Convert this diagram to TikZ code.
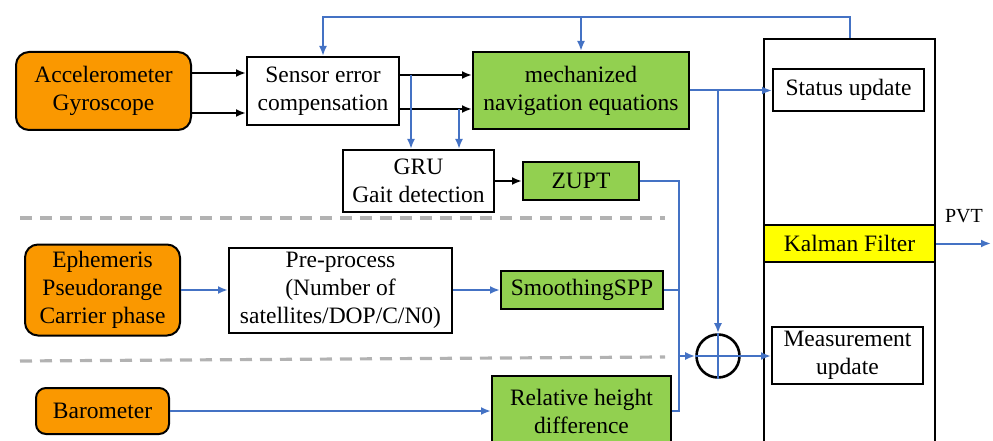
\documentclass[tikz,border=0pt]{standalone}
\usepackage{fontspec}
\setmainfont{Liberation Serif}
\newfontfamily\boxfont{Liberation Serif}
\usepackage{xcolor}
\usetikzlibrary{positioning,arrows.meta,calc}
\definecolor{orangebox}{RGB}{250,152,0}
\definecolor{greenbox}{RGB}{146,208,80}
\definecolor{yellowbox}{RGB}{255,255,0}
\definecolor{lineblue}{RGB}{68,114,196}
\definecolor{dashgray}{RGB}{178,178,178}
\tikzset{
  wblk/.style   ={draw=black, fill=white, line width=2pt, align=center,
                  font=\boxfont\fontsize{23.5}{28}\selectfont, inner sep=0pt},
  gblk/.style   ={wblk, fill=greenbox},
  oblk/.style   ={wblk, fill=orangebox, rounded corners=13pt},
  ar/.style     ={-{Latex[length=10pt,width=8pt]}, draw=black, line width=2pt},
  bar/.style    ={-{Latex[length=10pt,width=8pt]}, draw=lineblue, line width=2pt},
  bln/.style    ={draw=lineblue, line width=2pt},
  divider/.style={draw=dashgray, line width=3.2pt, dash pattern=on 12pt off 8pt},
}
\begin{document}
\begin{tikzpicture}[x=1pt,y=-1pt]
\useasboundingbox (0,0) rectangle (993,441);

% Kalman filter frame
\node[wblk,minimum width=171pt,minimum height=411pt] (kf) at (849.5,244.5) {};
\node[wblk,minimum width=151pt,minimum height=42pt] (status) at (848.5,90) {Status update};
\node[wblk,fill=yellowbox,minimum width=171pt,minimum height=37pt] (kalman) at (849.5,243.5) {Kalman Filter};
\node[wblk,minimum width=151pt,minimum height=57pt] (meas) at (847.5,355.5) {Measurement\\ update};

% IMU branch
\node[oblk,minimum width=175pt,minimum height=78pt] (acc) at (103.5,91) {Accelerometer\\ Gyroscope};
\node[wblk,minimum width=152pt,minimum height=68pt] (sec) at (323,91) {Sensor error\\ compensation};
\node[gblk,minimum width=216pt,minimum height=77pt] (mech) at (581,90.5) {mechanized\\ navigation equations};
\node[wblk,minimum width=151pt,minimum height=62pt] (gru) at (418.5,181) {GRU\\ Gait detection};
\node[gblk,minimum width=116pt,minimum height=38pt] (zupt) at (581,181) {ZUPT};

% GNSS branch
\node[oblk,minimum width=155pt,minimum height=91pt] (eph) at (102.5,290) {Ephemeris\\ Pseudorange\\ Carrier phase};
\node[wblk,minimum width=223pt,minimum height=85pt] (pre) at (340.5,290) {Pre-process\\ (Number of\\ satellites/DOP/C/N0)};
\node[gblk,minimum width=162pt,minimum height=38pt] (spp) at (582,290) {SmoothingSPP};

% barometer branch
\node[oblk,rounded corners=10pt,minimum width=133pt,minimum height=46pt] (baro) at (102.5,411) {Barometer};
\node[gblk,minimum width=179pt,minimum height=70pt] (rel) at (581.5,411) {Relative height\\ difference};

\node[draw=black,line width=2.6pt,circle,minimum size=43pt,inner sep=0pt] (circ) at (718,356) {};
\node[font=\boxfont\fontsize{20}{24}\selectfont,inner sep=0pt] (pvtlbl) at (964,216) {PVT};

\coordinate (fb) at (581,18);
\coordinate (t1) at (411,75);
\coordinate (t2) at (459,109);
\coordinate (mx) at (679,356);
\coordinate (pvt) at (991,243.5);

\draw[divider] (20,218) -- (665,218);
\draw[divider] (20,361) -- (665,357);

\draw[ar] ([yshift=18pt]acc.east) -- ([yshift=18pt]acc.east -| sec.west);
\draw[ar] ([yshift=-22pt]acc.east) -- ([yshift=-22pt]acc.east -| sec.west);
\draw[ar] ([yshift=16pt]sec.east) -- ([yshift=16pt]sec.east -| mech.west);
\draw[ar] ([yshift=-18pt]sec.east) -- ([yshift=-18pt]sec.east -| mech.west);
\draw[bar] (t1) -- (t1 |- gru.north);
\draw[bar] (t2) -- (t2 |- gru.north);
\draw[ar] (gru.east) -- (gru.east -| zupt.west);

\draw[bar] (kf.north) -- ++(0,-21) -| (sec.north);
\draw[bar] (fb) -- (mech.north);
\draw[bar] (mech.east) -- (mech.east -| status.west);
\draw[bar] (mech.east -| circ.north) -- (circ.north);
\draw[bln] (circ.north) -- (circ.south);
\draw[bln] (circ.west) -- (circ.east);

\draw[bar] (eph.east) -- (pre.west);
\draw[bar] (pre.east) -- (spp.west);
\draw[bar] (baro.east) -- (rel.west);

\draw[bln] (zupt.east) -| (mx);
\draw[bln] (spp.east) -| (mx);
\draw[bln] (rel.east) -| (mx);
\draw[bar] (mx) -- (circ.west);
\draw[bar] (circ.east) -- (circ.east -| meas.west);
\draw[bar] (kalman.east) -- (pvt);
\end{tikzpicture}
\end{document}
